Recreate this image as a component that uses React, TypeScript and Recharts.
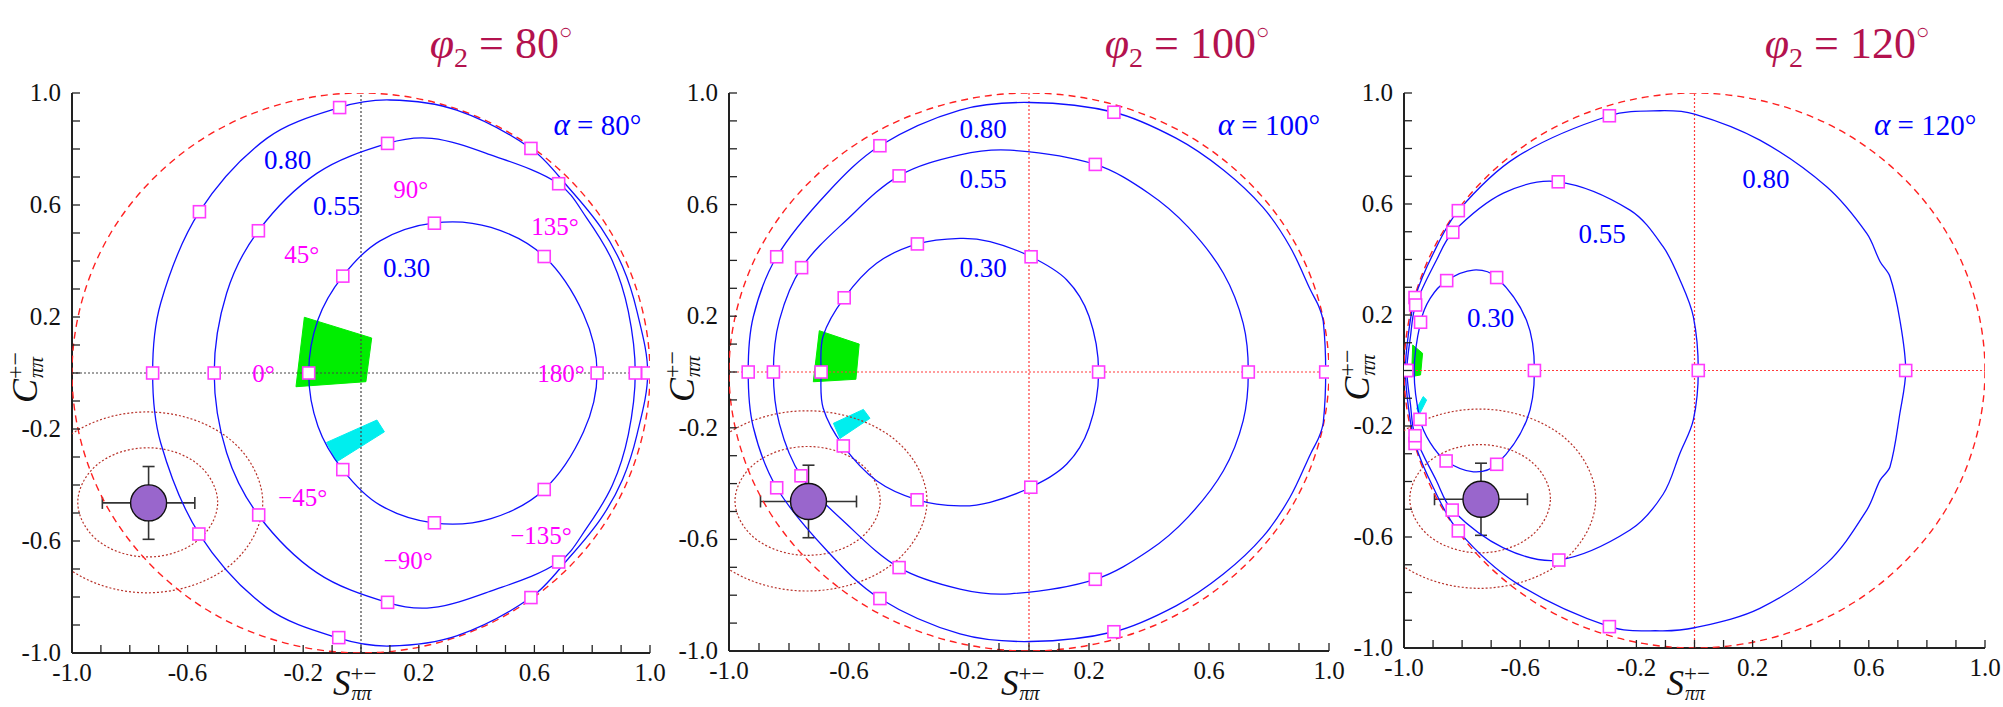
import React from 'react';
import { ScatterChart, Scatter, XAxis, YAxis, ErrorBar } from 'recharts';

const W = 2003;
const H = 707;
const SERIF = 'Liberation Serif, DejaVu Serif, serif';

// axis ticks every 0.1, labels every 0.4
const axisTicks = [-1.0, -0.9, -0.8, -0.7, -0.6, -0.5, -0.4, -0.3, -0.2, -0.1, 0.0, 0.1, 0.2, 0.3, 0.4, 0.5, 0.6, 0.7, 0.8, 0.9, 1.0];
const tickLabels = ['-1.0', '-0.6', '-0.2', '0.2', '0.6', '1.0'];

// physical boundary S^2 + C^2 = 1
const unitCircle = [[1, 0], [0.866, 0.5], [0.5, 0.866], [0, 1], [-0.5, 0.866], [-0.866, 0.5], [-1, 0], [-0.866, -0.5], [-0.5, -0.866], [0, -1], [0.5, -0.866], [0.866, -0.5]];
const zeroH = [[-1, 0], [1, 0]];
const zeroV = [[0, -1], [0, 1]];

// measurement and its confidence contours (same in every panel)
const measured = [{ x: -0.735, y: -0.464, ex: 0.16, ey: 0.13 }];
const clInner = [[-0.496, -0.462], [-0.567, -0.324], [-0.738, -0.267], [-0.909, -0.324], [-0.98, -0.462], [-0.909, -0.6], [-0.738, -0.657], [-0.567, -0.6]];
const clOuter = [[-0.34, -0.462], [-0.457, -0.234], [-0.74, -0.139], [-1.023, -0.234], [-1.14, -0.462], [-1.023, -0.69], [-0.74, -0.785], [-0.457, -0.69]];

// ---- phi2 = 80, alpha = 80
const p1C30 = [[-0.181, 0], [-0.149, 0.19], [-0.063, 0.346], [0.066, 0.472], [0.254, 0.536], [0.45, 0.52], [0.634, 0.416], [0.77, 0.21], [0.817, 0], [0.77, -0.21], [0.634, -0.416], [0.45, -0.52], [0.254, -0.536], [0.066, -0.472], [-0.063, -0.346], [-0.149, -0.19]];
const p1C55 = [[-0.508, 0], [-0.465, 0.285], [-0.355, 0.508], [-0.153, 0.713], [0.092, 0.82], [0.245, 0.838], [0.446, 0.78], [0.684, 0.676], [0.78, 0.555], [0.87, 0.4], [0.925, 0.22], [0.949, 0], [0.925, -0.22], [0.87, -0.4], [0.78, -0.555], [0.684, -0.676], [0.446, -0.78], [0.245, -0.838], [0.092, -0.82], [-0.153, -0.713], [-0.355, -0.508], [-0.465, -0.285]];
const p1C80 = [[-0.721, 0], [-0.693, 0.25], [-0.559, 0.576], [-0.326, 0.838], [-0.074, 0.948], [0.1, 0.975], [0.331, 0.939], [0.588, 0.802], [0.72, 0.66], [0.83, 0.52], [0.905, 0.38], [0.955, 0.22], [0.992, 0], [0.955, -0.22], [0.905, -0.38], [0.83, -0.52], [0.72, -0.66], [0.588, -0.802], [0.331, -0.939], [0.1, -0.975], [-0.074, -0.948], [-0.326, -0.838], [-0.559, -0.576], [-0.693, -0.25]];
const p1Squares = [[-0.721, 0], [-0.559, 0.576], [-0.074, 0.948], [0.588, 0.802], [0.992, 0], [0.588, -0.802], [-0.077, -0.945], [-0.561, -0.575],
  [-0.508, 0], [-0.355, 0.508], [0.092, 0.82], [0.684, 0.676], [0.949, 0], [0.684, -0.675], [0.092, -0.819], [-0.354, -0.507],
  [-0.181, 0], [-0.063, 0.346], [0.254, 0.535], [0.634, 0.416], [0.817, 0], [0.634, -0.416], [0.254, -0.535], [-0.063, -0.345]];
const p1Green = [[-0.196, 0.199], [0.037, 0.125], [0.017, -0.031], [-0.225, -0.049]];
const p1Cyan = [[-0.119, -0.248], [0.055, -0.168], [0.081, -0.21], [-0.084, -0.317]];
const p1Levels = [{ x: -0.254, y: 0.761, t: '0.80' }, { x: -0.084, y: 0.596, t: '0.55' }, { x: 0.158, y: 0.377, t: '0.30' }];
const p1Phases = [{ x: -0.337, y: 0, t: '0°' }, { x: -0.205, y: 0.425, t: '45°' }, { x: 0.172, y: 0.657, t: '90°' }, { x: 0.671, y: 0.523, t: '135°' },
  { x: 0.692, y: 0, t: '180°' }, { x: -0.202, y: -0.445, t: '−45°' }, { x: 0.163, y: -0.668, t: '−90°' }, { x: 0.623, y: -0.579, t: '−135°' }];

// ---- phi2 = 100, alpha = 100
const p2C30 = [[-0.693, 0], [-0.686, 0.13], [-0.616, 0.266], [-0.508, 0.39], [-0.372, 0.459], [-0.23, 0.479], [-0.13, 0.467], [0.007, 0.413], [0.126, 0.33], [0.2, 0.2], [0.232, 0], [0.2, -0.2], [0.126, -0.33], [0.006, -0.413], [-0.13, -0.467], [-0.23, -0.48], [-0.373, -0.458], [-0.508, -0.39], [-0.619, -0.265], [-0.686, -0.13]];
const p2C55 = [[-0.852, 0], [-0.832, 0.186], [-0.758, 0.374], [-0.608, 0.545], [-0.433, 0.703], [-0.23, 0.778], [-0.063, 0.795], [0.221, 0.744], [0.4, 0.64], [0.53, 0.52], [0.648, 0.354], [0.714, 0.174], [0.731, 0],
  [0.714, -0.174], [0.648, -0.354], [0.53, -0.52], [0.4, -0.64], [0.221, -0.743], [-0.063, -0.795], [-0.23, -0.778], [-0.433, -0.701], [-0.608, -0.545], [-0.76, -0.372], [-0.832, -0.186]];
const p2C80 = [[-0.936, 0], [-0.919, 0.198], [-0.841, 0.413], [-0.674, 0.64], [-0.497, 0.811], [-0.23, 0.939], [0.003, 0.966], [0.283, 0.931], [0.49, 0.838], [0.648, 0.724], [0.78, 0.59], [0.87, 0.449], [0.94, 0.29], [0.966, 0.235], [0.981, 0.18], [0.989, 0],
  [0.981, -0.18], [0.966, -0.235], [0.94, -0.29], [0.87, -0.449], [0.78, -0.59], [0.648, -0.724], [0.49, -0.838], [0.283, -0.931], [0.003, -0.966], [-0.23, -0.939], [-0.497, -0.812], [-0.674, -0.64], [-0.841, -0.415], [-0.919, -0.198]];
const p2Squares = [[-0.936, 0], [-0.841, 0.413], [-0.497, 0.811], [0.283, 0.931], [0.989, 0], [0.283, -0.931], [-0.497, -0.812], [-0.841, -0.415],
  [-0.852, 0], [-0.758, 0.374], [-0.433, 0.703], [0.221, 0.744], [0.731, 0], [0.221, -0.743], [-0.433, -0.701], [-0.76, -0.372],
  [-0.693, 0], [-0.616, 0.266], [-0.372, 0.459], [0.007, 0.413], [0.232, 0], [0.006, -0.413], [-0.373, -0.458], [-0.619, -0.265]];
const p2Green = [[-0.699, 0.148], [-0.566, 0.1], [-0.577, -0.026], [-0.719, -0.035]];
const p2Cyan = [[-0.652, -0.184], [-0.552, -0.134], [-0.53, -0.166], [-0.63, -0.238]];
const p2Levels = [{ x: -0.153, y: 0.871, t: '0.80' }, { x: -0.153, y: 0.694, t: '0.55' }, { x: -0.153, y: 0.375, t: '0.30' }];

// ---- phi2 = 120, alpha = 120
const p3C30 = [[-0.965, 0], [-0.943, 0.174], [-0.91, 0.26], [-0.853, 0.324], [-0.761, 0.362], [-0.681, 0.335], [-0.578, 0.18], [-0.551, 0], [-0.578, -0.18], [-0.681, -0.338], [-0.761, -0.365], [-0.855, -0.326], [-0.91, -0.26], [-0.945, -0.176]];
const p3C55 = [[-0.99, 0], [-0.978, 0.12], [-0.96, 0.236], [-0.888, 0.398], [-0.832, 0.498], [-0.658, 0.639], [-0.469, 0.68], [-0.222, 0.578], [-0.108, 0.446], [-0.05, 0.326], [-0.004, 0.194], [0.013, 0],
  [-0.004, -0.178], [-0.05, -0.298], [-0.108, -0.446], [-0.222, -0.575], [-0.467, -0.683], [-0.658, -0.639], [-0.834, -0.503], [-0.888, -0.398], [-0.962, -0.235], [-0.978, -0.12]];
const p3C80 = [[-0.995, 0], [-0.985, 0.13], [-0.962, 0.263], [-0.9, 0.42], [-0.813, 0.576], [-0.612, 0.77], [-0.293, 0.918], [-0.119, 0.936], [0, 0.924], [0.225, 0.83], [0.455, 0.662], [0.593, 0.494], [0.639, 0.392], [0.673, 0.338], [0.707, 0.182], [0.727, 0],
  [0.707, -0.154], [0.673, -0.347], [0.639, -0.395], [0.593, -0.503], [0.455, -0.695], [0.225, -0.857], [0, -0.927], [-0.119, -0.938], [-0.293, -0.923], [-0.612, -0.767], [-0.813, -0.578], [-0.9, -0.42], [-0.962, -0.263], [-0.985, -0.13]];
const p3Squares = [[-0.995, 0], [-0.962, 0.263], [-0.813, 0.576], [-0.293, 0.918], [0.727, 0], [-0.293, -0.923], [-0.813, -0.578], [-0.962, -0.263],
  [-0.99, 0], [-0.96, 0.236], [-0.832, 0.498], [-0.469, 0.68], [0.013, 0], [-0.467, -0.683], [-0.834, -0.503], [-0.962, -0.235],
  [-0.943, 0.174], [-0.853, 0.324], [-0.681, 0.335], [-0.551, 0], [-0.681, -0.338], [-0.855, -0.326], [-0.945, -0.176]];
const p3Green = [[-0.97, 0.092], [-0.936, 0.062], [-0.943, -0.016], [-0.974, -0.022]];
const p3Cyan = [[-0.956, -0.136], [-0.934, -0.094], [-0.922, -0.106], [-0.948, -0.16]];
const p3Levels = [{ x: 0.246, y: 0.69, t: '0.80' }, { x: -0.318, y: 0.492, t: '0.55' }, { x: -0.702, y: 0.191, t: '0.30' }];

const pts = (a: number[][]) => a.map(([x, y]) => ({ x, y }));

// smooth closed curve through the given points (used as the line joint type)
const smoothLoop = (context: any) => {
  let p: number[][] = [];
  const len = (a: number[], b: number[]) => Math.hypot(b[0] - a[0], b[1] - a[1]) || 1;
  return {
    areaStart() {},
    areaEnd() {},
    lineStart() { p = []; },
    point(x: number, y: number) { p.push([+x, +y]); },
    lineEnd() {
      const n = p.length;
      if (n < 3) return;
      context.moveTo(p[0][0], p[0][1]);
      for (let i = 0; i < n; i++) {
        const a = p[(i + n - 1) % n], b = p[i], c = p[(i + 1) % n], d = p[(i + 2) % n];
        const L = len(b, c) / 3;
        const l1 = len(a, c), l2 = len(b, d);
        context.bezierCurveTo(
          b[0] + ((c[0] - a[0]) / l1) * L, b[1] + ((c[1] - a[1]) / l1) * L,
          c[0] - ((d[0] - b[0]) / l2) * L, c[1] - ((d[1] - b[1]) / l2) * L,
          c[0], c[1]);
      }
      context.closePath();
    },
  };
};

const nothing = () => <g />;
const square = (p: any) => <rect x={p.cx - 6} y={p.cy - 6} width={12} height={12} fill="#fff" stroke="#ff3cff" strokeWidth={1.6} />;
const dot = (p: any) => <circle cx={p.cx} cy={p.cy} r={18} fill="#9966cc" stroke="#111" strokeWidth={1.4} />;
const label = (color: string, size: number) => (p: any) => (
  <text x={p.cx} y={p.cy} dy="0.34em" textAnchor="middle" fill={color} fontFamily={SERIF} fontSize={size}>{p.payload.t}</text>
);
const alphaLabel = (p: any) => (
  <text x={p.cx} y={p.cy} dy="0.34em" textAnchor="end" fill="#0000ff" fontFamily={SERIF} fontSize={29}>
    <tspan fontStyle="italic" fontSize={31}>α</tspan> = {p.payload.t}
  </text>
);

const AX = '#222';
const BottomTick = (p: any) => {
  const lab = Number(p.payload.value).toFixed(1);
  return (
    <g>
      <line x1={p.x} x2={p.x} y1={p.y} y2={p.y - 8} stroke={AX} strokeWidth={1.3} />
      {tickLabels.includes(lab) && <text x={p.x} y={p.y + 28} textAnchor="middle" fontFamily={SERIF} fontSize={25} fill="#111">{lab}</text>}
    </g>
  );
};
const LeftTick = (p: any) => {
  const lab = Number(p.payload.value).toFixed(1);
  return (
    <g>
      <line x1={p.x} x2={p.x + 8} y1={p.y} y2={p.y} stroke={AX} strokeWidth={1.3} />
      {tickLabels.includes(lab) && <text x={p.x - 11} y={p.y + 8} textAnchor="end" fontFamily={SERIF} fontSize={25} fill="#111">{lab}</text>}
    </g>
  );
};
const TopTick = (p: any) => <line x1={p.x} x2={p.x} y1={p.y} y2={p.y + 8} stroke={AX} strokeWidth={1.3} />;
const RightTick = (p: any) => <line x1={p.x} x2={p.x - 8} y1={p.y} y2={p.y} stroke={AX} strokeWidth={1.3} />;

const panels = [
  { left: 72, top: 93, w: 578, h: 560, alpha: '80°', zero: '#444', c30: p1C30, c55: p1C55, c80: p1C80, squares: p1Squares, green: p1Green, cyan: p1Cyan, levels: p1Levels, phases: p1Phases },
  { left: 729, top: 93, w: 600, h: 558, alpha: '100°', zero: '#ff3b3b', c30: p2C30, c55: p2C55, c80: p2C80, squares: p2Squares, green: p2Green, cyan: p2Cyan, levels: p2Levels, phases: [] },
  { left: 1404, top: 93, w: 581, h: 555, alpha: '120°', zero: '#ff3b3b', c30: p3C30, c55: p3C55, c80: p3C80, squares: p3Squares, green: p3Green, cyan: p3Cyan, levels: p3Levels, phases: [] },
];

function Panel({ cfg }: { cfg: any }) {
  const axisLine = { stroke: AX, strokeWidth: 2 };
  const common = { isAnimationActive: false, shape: nothing };
  const R = 26;
  return (
    <div style={{ position: 'absolute', left: cfg.left - 80, top: 0 }}>
      <ScatterChart width={cfg.w + 80 + R} height={H} margin={{ top: cfg.top, right: R, left: 0, bottom: H - cfg.top - cfg.h - 40 }}>
        <XAxis type="number" dataKey="x" domain={[-1, 1]} allowDataOverflow ticks={axisTicks} interval={0} tickSize={0} tickMargin={0} height={40} tick={BottomTick} tickLine={false} axisLine={axisLine} />
        <XAxis xAxisId="top" orientation="top" type="number" domain={[-1, 1]} allowDataOverflow ticks={axisTicks} interval={0} tickSize={0} tickMargin={0} height={0} tick={TopTick} tickLine={false} axisLine={axisLine} />
        <YAxis type="number" dataKey="y" domain={[-1, 1]} allowDataOverflow ticks={axisTicks} interval={0} tickSize={0} tickMargin={0} width={80} tick={LeftTick} tickLine={false} axisLine={axisLine} />
        <YAxis yAxisId="right" orientation="right" type="number" domain={[-1, 1]} allowDataOverflow ticks={axisTicks} interval={0} tickSize={0} tickMargin={0} width={0} tick={RightTick} tickLine={false} axisLine={{ stroke: '#333', strokeWidth: 2.6 }} />

        <Scatter {...common} data={pts(cfg.green)} line={{ stroke: '#00ee00', fill: '#00ee00', strokeWidth: 1 }} lineJointType="linearClosed" />
        <Scatter {...common} data={pts(cfg.cyan)} line={{ stroke: '#00eeee', fill: '#00eeee', strokeWidth: 1 }} lineJointType="linearClosed" />
        <Scatter {...common} data={pts(zeroH)} line={{ stroke: cfg.zero, strokeWidth: 1.2, strokeDasharray: '2 2' }} />
        <Scatter {...common} data={pts(zeroV)} line={{ stroke: cfg.zero, strokeWidth: 1.2, strokeDasharray: '2 2' }} />
        <Scatter {...common} data={pts(clInner)} line={{ stroke: '#b8322a', strokeWidth: 1.2, strokeDasharray: '2 2' }} lineJointType={smoothLoop as any} />
        <Scatter {...common} data={pts(clOuter)} line={{ stroke: '#b8322a', strokeWidth: 1.2, strokeDasharray: '2 2' }} lineJointType={smoothLoop as any} />
        <Scatter {...common} data={pts(unitCircle)} line={{ stroke: '#ff2020', strokeWidth: 1.4, strokeDasharray: '7 5' }} lineJointType={smoothLoop as any} />
        <Scatter {...common} data={pts(cfg.c30)} line={{ stroke: '#1010ff', strokeWidth: 1.3 }} lineJointType={smoothLoop as any} />
        <Scatter {...common} data={pts(cfg.c55)} line={{ stroke: '#1010ff', strokeWidth: 1.3 }} lineJointType={smoothLoop as any} />
        <Scatter {...common} data={pts(cfg.c80)} line={{ stroke: '#1010ff', strokeWidth: 1.3 }} lineJointType={smoothLoop as any} />
        <Scatter isAnimationActive={false} data={pts(cfg.squares)} shape={square} />
        <Scatter isAnimationActive={false} data={cfg.levels} shape={label('#0000ff', 27)} />
        <Scatter isAnimationActive={false} data={cfg.phases} shape={label('#ff00ff', 25)} />
        <Scatter {...common} data={measured}>
          <ErrorBar dataKey="ex" direction="x" width={6} stroke="#333" strokeWidth={1.6} />
          <ErrorBar dataKey="ey" direction="y" width={6} stroke="#333" strokeWidth={1.6} />
        </Scatter>
        <Scatter isAnimationActive={false} data={measured} shape={dot} />
        <Scatter isAnimationActive={false} data={[{ x: 0.97, y: 0.885, t: cfg.alpha }]} shape={alphaLabel} />
      </ScatterChart>
    </div>
  );
}

const titles = [{ cx: 501, t: '80' }, { cx: 1187, t: '100' }, { cx: 1847, t: '120' }];

export default function App() {
  return (
    <div style={{ position: 'absolute', left: 0, top: 0, width: W, height: H, background: '#fff', overflow: 'hidden', fontFamily: SERIF }}>
      {panels.map((cfg, i) => <Panel key={i} cfg={cfg} />)}
      <svg width={W} height={H} style={{ position: 'absolute', left: 0, top: 0, pointerEvents: 'none' }}>
        {titles.map((tt) => (
          <text key={tt.t} x={tt.cx} y={58} textAnchor="middle" fill="#b3124e" fontFamily={SERIF} fontSize={44}>
            <tspan fontStyle="italic">φ</tspan>
            <tspan fontSize={28} dy={9}>2</tspan>
            <tspan dy={-9}>{` = ${tt.t}`}</tspan>
            <tspan fontSize={22} dy={-19}>○</tspan>
          </text>
        ))}
        {panels.map((cfg, i) => {
          const zx = cfg.left + cfg.w / 2;
          const zy = cfg.top + cfg.h / 2;
          return (
            <g key={i} fontFamily={SERIF} fill="#111">
              <text x={zx - 28} y={695}>
                <tspan fontStyle="italic" fontSize={35}>S</tspan>
                <tspan fontSize={23} dy={-14}>+−</tspan>
                <tspan fontSize={20} fontStyle="italic" dx={-25} dy={19}>ππ</tspan>
              </text>
              <text transform={`translate(${cfg.left - 35},${zy + 30}) rotate(-90)`}>
                <tspan fontStyle="italic" fontSize={36}>C</tspan>
                <tspan fontSize={24} dy={-14}>+−</tspan>
                <tspan fontSize={21} fontStyle="italic" dx={-26} dy={20}>ππ</tspan>
              </text>
            </g>
          );
        })}
      </svg>
    </div>
  );
}
